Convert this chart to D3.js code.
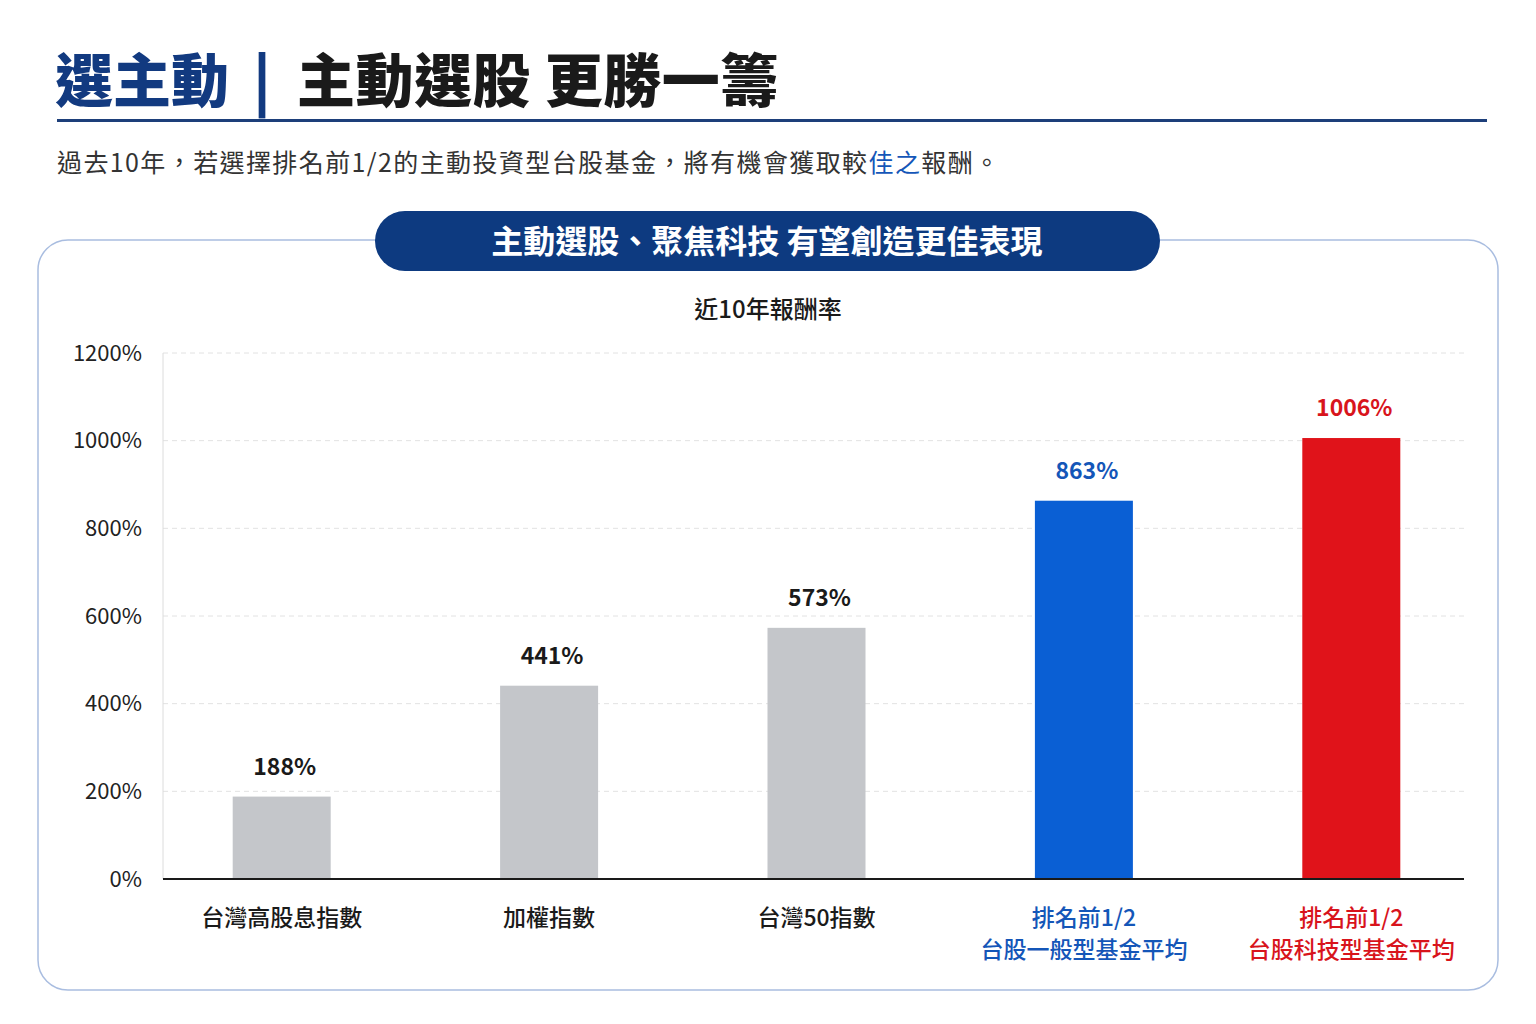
<!DOCTYPE html>
<html>
<head>
<meta charset="utf-8">
<script src="https://cdn.jsdelivr.net/npm/d3@7"></script>
<style>
  body { margin: 0; background: #fff; }
  text { font-family: "Noto Sans CJK TC", "Noto Sans", sans-serif; }
</style>
</head>
<body>
<div id="chart"></div>
<script>
// data
const categories = ["台灣高股息指數", "加權指數", "台灣50指數", "排名前1/2 台股一般型基金平均", "排名前1/2 台股科技型基金平均"];
const labelLines = [["台灣高股息指數"], ["加權指數"], ["台灣50指數"], ["排名前1/2", "台股一般型基金平均"], ["排名前1/2", "台股科技型基金平均"]];
const values = [188, 441, 573, 863, 1006];
const barColors = ["#c4c6ca", "#c4c6ca", "#c4c6ca", "#0a5fd4", "#e0131a"];
const labelColors = ["#1a1a1a", "#1a1a1a", "#1a1a1a", "#1456b8", "#d8141c"];
const yTicks = [0, 200, 400, 600, 800, 1000, 1200];

const W = 1536, H = 1024;
const navy = "#123a80";

const svg = d3.select("#chart").append("svg")
    .attr("width", W)
    .attr("height", H);

// header
const title = svg.append("text")
    .attr("x", 55).attr("y", 102)
    .attr("font-size", 58).attr("font-weight", 900);
title.append("tspan").attr("fill", navy).text("選主動");
title.append("tspan").attr("fill", navy).attr("dx", 24).text("|");
title.append("tspan").attr("fill", "#1a1a1a").attr("dx", 26).attr("letter-spacing", 0.5).text("主動選股 更勝一籌");

svg.append("rect")
    .attr("x", 57).attr("y", 119).attr("width", 1430).attr("height", 3)
    .attr("fill", "#1d3f7a");

const sub = svg.append("text")
    .attr("x", 57).attr("y", 172)
    .attr("font-size", 25).attr("letter-spacing", 1.4).attr("fill", "#333");
sub.append("tspan").text("過去10年，若選擇排名前1/2的主動投資型台股基金，將有機會獲取較");
sub.append("tspan").attr("fill", "#1456b8").text("佳之");
sub.append("tspan").text("報酬。");

// panel
svg.append("rect")
    .attr("x", 38).attr("y", 240).attr("width", 1460).attr("height", 750)
    .attr("rx", 30)
    .attr("fill", "#fff").attr("stroke", "#a9bde0").attr("stroke-width", 1.5);

svg.append("rect")
    .attr("x", 375).attr("y", 211).attr("width", 785).attr("height", 60)
    .attr("rx", 30)
    .attr("fill", "#0d3a80");
svg.append("text")
    .attr("x", 767).attr("y", 253)
    .attr("text-anchor", "middle")
    .attr("font-size", 32).attr("font-weight", 700).attr("fill", "#fff")
    .text("主動選股、聚焦科技 有望創造更佳表現");

svg.append("text")
    .attr("x", 768).attr("y", 318)
    .attr("text-anchor", "middle")
    .attr("font-size", 24).attr("font-weight", 500).attr("fill", "#1a1a1a")
    .text("近10年報酬率");

// chart
const x = d3.scalePoint()
    .domain(categories)
    .range([148, 1485])
    .padding(0.5);

const y = d3.scaleLinear()
    .domain([0, 1200])
    .range([879, 353]);

const barW = 98;
const plotLeft = 163, plotRight = 1464;

svg.append("g")
    .selectAll("line")
    .data(yTicks.filter(d => d > 0))
    .join("line")
    .attr("x1", plotLeft).attr("x2", plotRight)
    .attr("y1", d => y(d)).attr("y2", d => y(d))
    .attr("stroke", "#e2e2e2")
    .attr("stroke-dasharray", "5,4");

svg.append("line")
    .attr("x1", plotLeft).attr("x2", plotLeft)
    .attr("y1", y(1200)).attr("y2", y(0))
    .attr("stroke", "#dcdcdc");

const yAxis = svg.append("g")
    .attr("transform", `translate(${plotLeft}, 0)`)
    .call(d3.axisLeft(y).tickValues(yTicks).tickSize(0).tickPadding(21).tickFormat(d => d + "%"));
yAxis.select(".domain").remove();
yAxis.selectAll("text")
    .attr("font-size", 22)
    .attr("fill", "#222")
    .attr("font-family", "'Noto Sans CJK TC', sans-serif");

svg.append("g")
    .selectAll("rect")
    .data(values)
    .join("rect")
    .attr("x", (d, i) => x(categories[i]) - barW / 2)
    .attr("y", d => y(d))
    .attr("width", barW)
    .attr("height", d => y(0) - y(d))
    .attr("fill", (d, i) => barColors[i]);

svg.append("line")
    .attr("x1", plotLeft).attr("x2", plotRight)
    .attr("y1", y(0)).attr("y2", y(0))
    .attr("stroke", "#1a1a1a").attr("stroke-width", 2);

svg.append("g")
    .selectAll("text")
    .data(values)
    .join("text")
    .attr("x", (d, i) => x(categories[i]) + 3)
    .attr("y", d => y(d) - 22)
    .attr("text-anchor", "middle")
    .attr("font-size", 23).attr("font-weight", 700)
    .attr("fill", (d, i) => labelColors[i])
    .text(d => d + "%");

const xl = svg.append("g")
    .selectAll("text")
    .data(labelLines)
    .join("text")
    .attr("x", (d, i) => x(categories[i]))
    .attr("y", 926)
    .attr("text-anchor", "middle")
    .attr("font-size", 23).attr("font-weight", 500)
    .attr("fill", (d, i) => labelColors[i]);
xl.selectAll("tspan")
    .data(d => d)
    .join("tspan")
    .attr("x", function() { return d3.select(this.parentNode).attr("x"); })
    .attr("dy", (d, j) => j === 0 ? 0 : 32)
    .text(d => d);
</script>
</body>
</html>
